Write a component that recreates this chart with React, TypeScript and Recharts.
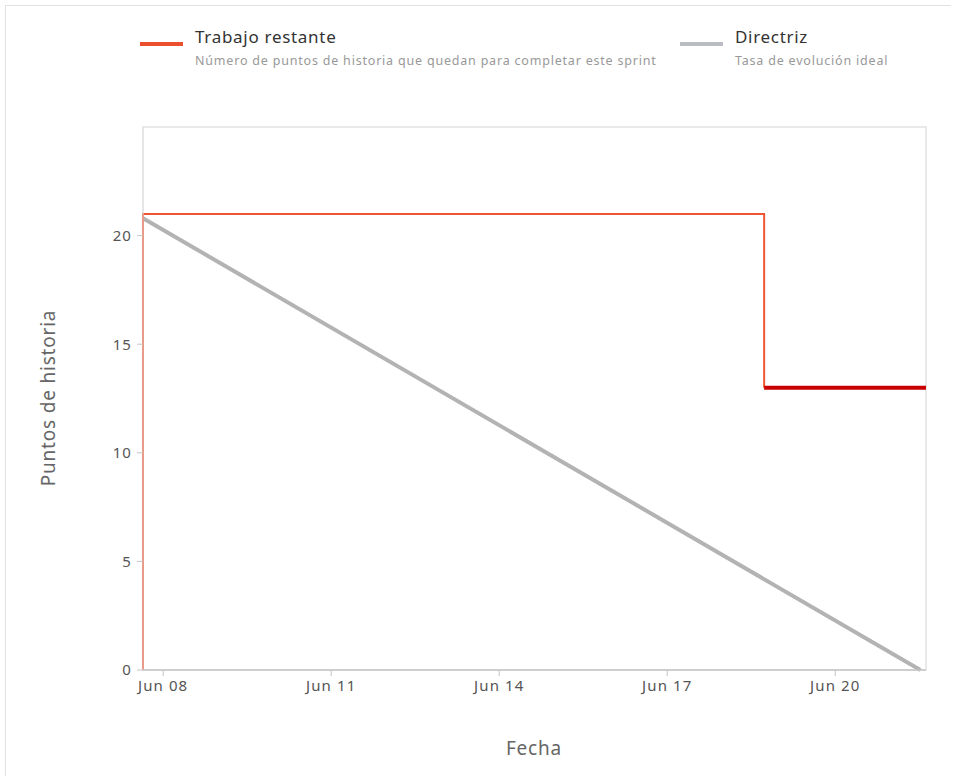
import { LineChart, Line, XAxis, YAxis, ReferenceArea } from 'recharts';

// x values are June days (fractional), y values are story points
const remainingX = [7.64, 7.64, 18.73, 18.73];
const remainingY = [0, 21, 21, 13];
const currentX = [18.73, 21.62];
const currentY = [13, 13];
const guideX = [7.64, 21.52];
const guideY = [20.8, 0];
const xTicks = [8, 11, 14, 17, 20];
const yTicks = [0, 5, 10, 15, 20];
const X_MIN = 7.64;
const X_MAX = 21.62;

const zip = (xs: number[], ys: number[]) => xs.map((x, i) => ({ x, y: ys[i] }));
const fmtDay = (d: number) => `Jun ${String(d).padStart(2, '0')}`;

const FONT = '"Noto Sans", "Open Sans", sans-serif';
const tick = { fontSize: 15, fill: '#555', fontFamily: FONT, letterSpacing: 1.1 };

function LegendItem({ color, title, sub, left }: { color: string; title: string; sub: string; left: number }) {
  return (
    <div style={{ position: 'absolute', left, top: 26 }}>
      <div style={{ position: 'absolute', left: 0, top: 16, width: 43, height: 4, background: color }} />
      <div style={{ position: 'absolute', left: 55, top: -1, fontSize: 17, letterSpacing: 0.7, color: '#333', whiteSpace: 'nowrap' }}>{title}</div>
      <div style={{ position: 'absolute', left: 55, top: 26, fontSize: 12.5, letterSpacing: 0.8, color: '#999', whiteSpace: 'nowrap' }}>{sub}</div>
    </div>
  );
}

export default function App() {
  return (
    <div style={{ position: 'absolute', left: 0, top: 0, width: 955, height: 778, background: '#fff', fontFamily: FONT }}>
      <div style={{ position: 'absolute', left: 5, top: 5, width: 945, height: 770, border: '1px solid #e2e2e2', borderRight: 'none', borderBottom: 'none' }} />
      <LegendItem color="#ea5030" title="Trabajo restante" sub="Número de puntos de historia que quedan para completar este sprint" left={140} />
      <LegendItem color="#b9bcc3" title="Directriz" sub="Tasa de evolución ideal" left={680} />
      <div style={{ position: 'absolute', left: 0, top: 0 }}>
        <LineChart width={955} height={778} margin={{ top: 127, right: 29, left: 83, bottom: 78 }}>
          <XAxis
            type="number"
            dataKey="x"
            domain={[X_MIN, X_MAX]}
            ticks={xTicks}
            tickFormatter={fmtDay}
            tick={tick}
            tickSize={6}
            tickMargin={4}
            height={30}
            axisLine={{ stroke: '#c4c4c4', strokeWidth: 1.5 }}
            tickLine={{ stroke: '#c4c4c4' }}
          />
          <YAxis
            type="number"
            dataKey="y"
            domain={[0, 25]}
            ticks={yTicks}
            tick={tick}
            tickSize={6}
            tickMargin={5}
            width={60}
            axisLine={{ stroke: '#e2e2e2' }}
            tickLine={{ stroke: '#c4c4c4' }}
          />
          <ReferenceArea x1={X_MIN} x2={X_MAX} y1={0} y2={25} fill="none" stroke="#e2e2e2" strokeWidth={1.5} />
          <Line data={zip(guideX, guideY)} dataKey="y" type="linear" stroke="#b3b3b3" strokeWidth={4} dot={false} isAnimationActive={false} />
          <Line data={zip(remainingX, remainingY)} dataKey="y" type="linear" stroke="#f05533" strokeWidth={2} dot={false} isAnimationActive={false} />
          <Line data={zip(currentX, currentY)} dataKey="y" type="linear" stroke="#c80000" strokeWidth={4} dot={false} isAnimationActive={false} />
        </LineChart>
      </div>
      <div style={{ position: 'absolute', left: 48, top: 398, transform: 'translate(-50%, -50%) rotate(-90deg)', fontSize: 19, letterSpacing: 0.8, color: '#666', whiteSpace: 'nowrap' }}>Puntos de historia</div>
      <div style={{ position: 'absolute', left: 534, top: 748, transform: 'translate(-50%, -50%)', fontSize: 19, letterSpacing: 0.8, color: '#666', whiteSpace: 'nowrap' }}>Fecha</div>
    </div>
  );
}
